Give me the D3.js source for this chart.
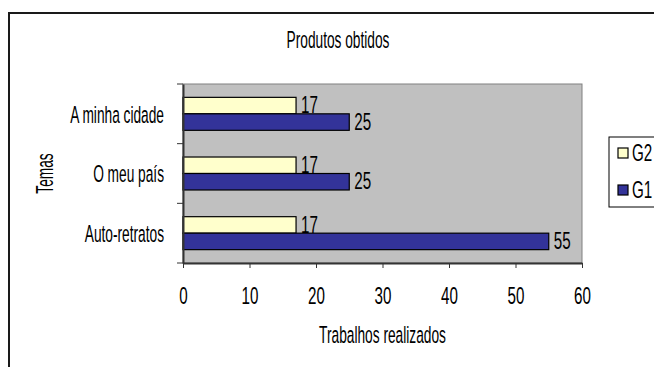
<!DOCTYPE html>
<html>
<head>
<meta charset="utf-8">
<script src="https://cdn.jsdelivr.net/npm/d3@7"></script>
<style>
  body { margin: 0; background: #fff; }
  text { font-family: "Liberation Sans Narrow", "Liberation Sans", Arial, sans-serif; fill: #000; }
</style>
</head>
<body>
<div id="chart"></div>
<script>
var categories = ["A minha cidade", "O meu país", "Auto-retratos"];
var seriesNames = ["G2", "G1"];
var g2Values = [17, 17, 17];
var g1Values = [25, 25, 55];
var xTicks = [0, 10, 20, 30, 40, 50, 60];
var colors = {G2: "#FFFFCC", G1: "#333399"};

var W = 654, H = 367;
var plot = {left: 183, right: 582, top: 84, bottom: 263};
var fs = 24.5;
var sx = 0.56;  // condensed look for words
var sxn = 0.62; // and for numbers

var svg = d3.select("#chart").append("svg")
    .attr("width", W)
    .attr("height", H);

// outer frame (goes past the right and bottom edges)
svg.append("rect")
    .attr("x", 9).attr("y", 13)
    .attr("width", 700).attr("height", 400)
    .attr("fill", "#fff")
    .attr("stroke", "#1a1a1a")
    .attr("stroke-width", 2);

function label(x, y, txt, anchor, rot) {
    return svg.append("text")
        .attr("transform", "translate(" + x + "," + y + ")" + (rot ? " rotate(" + rot + ")" : "") + " scale(" + sx + ",1)")
        .attr("text-anchor", anchor || "middle")
        .attr("font-size", fs)
        .text(txt);
}

var x = d3.scaleLinear().domain([0, 60]).range([plot.left, plot.right]);
var y = d3.scaleBand().domain(categories).range([plot.top, plot.bottom]);
var yInner = d3.scaleBand().domain(seriesNames).range([0, y.bandwidth()]).paddingOuter(0.81);

// plot area
svg.append("rect")
    .attr("x", plot.left).attr("y", plot.top)
    .attr("width", plot.right - plot.left).attr("height", plot.bottom - plot.top)
    .attr("fill", "#C0C0C0")
    .attr("stroke", "#808080")
    .attr("stroke-width", 1);

var rows = categories.map(function(c, i) {
    return {cat: c, G2: g2Values[i], G1: g1Values[i]};
});

var groups = svg.selectAll(".row").data(rows).enter().append("g")
    .attr("class", "row")
    .attr("transform", function(d) { return "translate(0," + y(d.cat) + ")"; });

seriesNames.forEach(function(s) {
    groups.append("rect")
        .attr("x", x(0))
        .attr("y", yInner(s))
        .attr("width", function(d) { return x(d[s]) - x(0); })
        .attr("height", yInner.bandwidth())
        .attr("fill", colors[s])
        .attr("stroke", "#000")
        .attr("stroke-width", 1.2);

    groups.append("text")
        .attr("transform", function(d) {
            return "translate(" + (x(d[s]) + 5) + "," + (yInner(s) + yInner.bandwidth() - 0.5) + ") scale(" + sxn + ",1)";
        })
        .attr("font-size", fs)
        .text(function(d) { return d[s]; });
});

// x axis
var xAxis = svg.append("g")
    .attr("transform", "translate(0," + plot.bottom + ")")
    .call(d3.axisBottom(x).tickValues(xTicks).tickSize(5).tickSizeOuter(0).tickFormat(d3.format("d")));
xAxis.select(".domain").attr("stroke", "#333").attr("stroke-width", 2);
xAxis.selectAll(".tick line").attr("stroke", "#333");
xAxis.selectAll(".tick text")
    .attr("y", 41).attr("dy", null)
    .attr("font-size", fs)
    .attr("font-family", null)
    .attr("fill", "#000")
    .attr("transform", "scale(" + sxn + ",1)");

// y axis: labels in band centres, ticks on band edges
var yAxis = svg.append("g")
    .attr("transform", "translate(" + plot.left + ",0)")
    .call(d3.axisLeft(y).tickSize(0).tickPadding(19 / sx));
yAxis.select(".domain").attr("stroke", "#333").attr("stroke-width", 2);
yAxis.selectAll(".tick text")
    .attr("font-size", fs)
    .attr("font-family", null)
    .attr("fill", "#000")
    .attr("dy", "0.36em")
    .attr("transform", "scale(" + sx + ",1)");

var edges = categories.map(function(c) { return y(c); }).concat([y.range()[1]]);
yAxis.selectAll(".edge").data(edges).enter().append("line")
    .attr("class", "edge")
    .attr("x1", -6).attr("x2", 0)
    .attr("y1", function(d) { return d; }).attr("y2", function(d) { return d; })
    .attr("stroke", "#333");

// titles
label(338, 48, "Produtos obtidos");
label((plot.left + plot.right) / 2, 343, "Trabalhos realizados");
label(53, 173.5, "Temas", "middle", -90);

// legend
var legend = svg.append("g").attr("transform", "translate(609,137)");
legend.append("rect")
    .attr("width", 80).attr("height", 70)
    .attr("fill", "#fff")
    .attr("stroke", "#000")
    .attr("stroke-width", 1);

var legY = d3.scalePoint().domain(seriesNames).range([16, 53]);
seriesNames.forEach(function(s) {
    legend.append("rect")
        .attr("x", 9).attr("y", legY(s) - 5)
        .attr("width", 10).attr("height", 10)
        .attr("fill", colors[s])
        .attr("stroke", "#000")
        .attr("stroke-width", 1.2);
    legend.append("text")
        .attr("transform", "translate(23," + (legY(s) + 8) + ") scale(" + sxn + ",1)")
        .attr("font-size", fs)
        .text(s);
});
</script>
</body>
</html>
